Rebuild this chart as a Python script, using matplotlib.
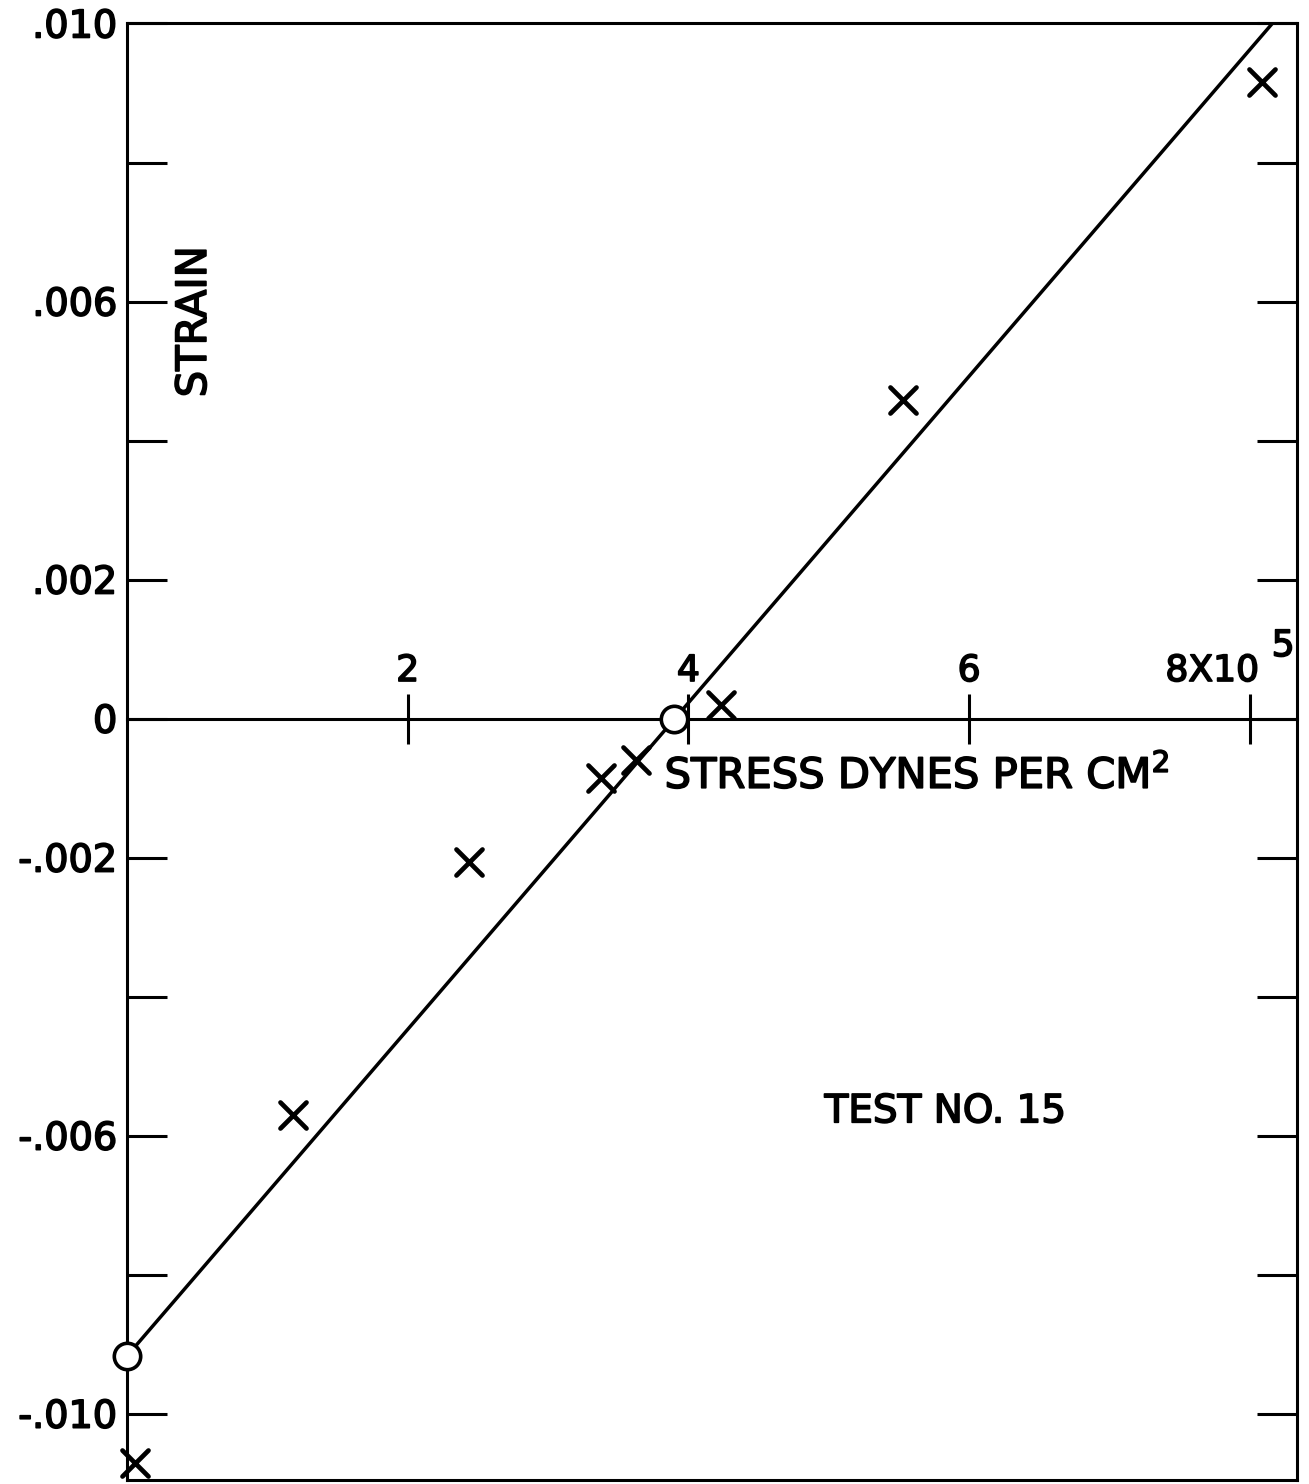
import matplotlib
matplotlib.use('Agg')
import matplotlib.pyplot as plt
import matplotlib.patheffects as pe
from matplotlib.markers import MarkerStyle

# measured points (x marks)
stress = [0.06, 1.18, 2.44, 3.38, 3.63, 4.23, 5.53, 8.09]
strain = [-0.01071, -0.00570, -0.00206, -0.00085, -0.00060, 0.00020, 0.00458, 0.00916]

# reference points (open circles) and the drawn line
ref_stress = [0.0, 3.90]
ref_strain = [-0.00917, 0.0]
fit_stress = [0.0, 8.16]
fit_strain = [-0.00917, 0.0100]

y_ticks = [0.010, 0.008, 0.006, 0.004, 0.002, 0.0, -0.002, -0.004, -0.006, -0.008, -0.010]
y_labels = ['.010', '', '.006', '', '.002', '0', '-.002', '', '-.006', '', '-.010']
x_ticks = [2, 4, 6, 8]
x_labels = ['2', '4', '6', '']

plt.rcParams['font.family'] = ['DejaVu Sans']
lw = 2.2
thick = [pe.withStroke(linewidth=1.2, foreground='black')]

fig = plt.figure(figsize=(13.09, 14.84), dpi=100)
ax = fig.add_axes([127 / 1309, 4 / 1484, 1170 / 1309, 1457 / 1484])
ax.set_xlim(0, 8.336)
ax.set_ylim(-0.010954, 0.010007)

for s in ax.spines.values():
    s.set_linewidth(lw)

ax.set_xticks([])
ax.set_yticks(y_ticks, labels=y_labels)
ax.tick_params(axis='y', direction='in', length=29, width=lw, pad=7,
               labelsize=27.5, right=True, labelright=False)

# stress axis drawn along strain = 0
sec = ax.secondary_xaxis(0, transform=ax.transData)
sec.set_alignment('top')
sec.set_xticks(x_ticks, labels=x_labels)
sec.tick_params(direction='inout', length=36, width=lw, pad=4, labelsize=26)
for s in sec.spines.values():
    s.set_linewidth(lw)
for t in ax.get_yticklabels() + sec.get_xticklabels():
    t.set_path_effects(thick)

ax.annotate('8X10', xy=(x_ticks[-1], 0), xytext=(-27, 22), textcoords='offset points',
            ha='center', va='bottom', fontsize=26, path_effects=thick)
ax.annotate('5', xy=(x_ticks[-1], 0), xytext=(24, 40), textcoords='offset points',
            ha='center', va='bottom', fontsize=26, path_effects=thick)

ax.plot(fit_stress, fit_strain, color='black', lw=2.5, solid_capstyle='butt')
xm = MarkerStyle('x', capstyle='round')
ax.plot(stress, strain, linestyle='none', marker=xm, markersize=19,
        markeredgewidth=3.4, color='black', clip_on=False)
ax.plot(ref_stress, ref_strain, linestyle='none', marker='o', markersize=19,
        markeredgewidth=2.6, markerfacecolor='white', markeredgecolor='black',
        clip_on=False, zorder=5)

ax.text(3.83, -0.0010, r'STRESS DYNES PER CM$^2$', fontsize=30, ha='left', va='baseline',
        path_effects=thick)
ax.text(0.477, 0.00571, 'STRAIN', fontsize=30, rotation=90, ha='center', va='center',
        path_effects=thick)
ax.text(5.83, -0.00565, 'TEST NO. 15', fontsize=28, ha='center', va='center',
        path_effects=thick)

fig.savefig('out.png', dpi=100)
